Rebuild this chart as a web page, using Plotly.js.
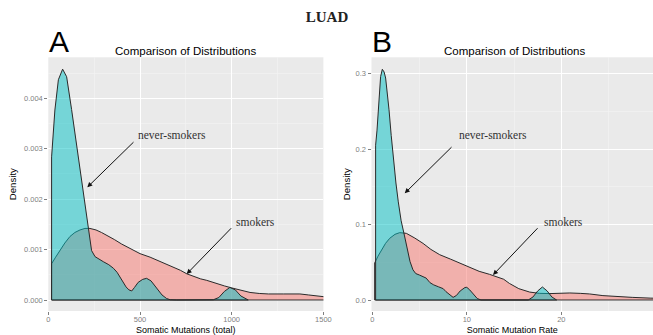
<!DOCTYPE html>
<html><head><meta charset="utf-8">
<script src="https://cdn.plot.ly/plotly-3.0.1.min.js"></script>
<style>html,body{margin:0;padding:0;background:#fff}#chart{width:653px;height:335px}</style>
</head><body><div id="chart"></div>
<script>
// ---- Panel A: Somatic Mutations (total) ----
const totalNeverX = [18,36,55,78,100,127,155,182,209,224,236,255,280,300,330,355,375,391,410,424,440,455,470,490,515,536,560,590,620,645,665,700,850,900,930,960,990,1020,1050,1075,1090];
const totalNeverY = [0.00284,0.00377,0.00437,0.00458,0.00443,0.00378,0.00306,0.00239,0.00172,0.00132,0.00098,0.00086,0.00080,0.00076,0.00070,0.00063,0.00055,0.00046,0.00034,0.00026,0.00020,0.00018,0.00025,0.00035,0.00041,0.00043,0.00038,0.00024,0.00010,0.00003,0.000005,0,0,0.000005,0.00005,0.00017,0.00025,0.00020,0.00008,0.00002,0];
const totalSmokX = [18,40,64,90,118,145,173,200,227,260,290,318,360,400,427,460,500,555,600,640,682,720,755,791,830,864,918,960,1000,1050,1100,1150,1200,1281,1340,1372,1420,1460,1500,1540];
const totalSmokY = [0.00072,0.00085,0.00099,0.00113,0.00126,0.00134,0.00139,0.00142,0.00142,0.00139,0.00134,0.00129,0.00120,0.00111,0.00106,0.00099,0.00092,0.00085,0.00078,0.00072,0.00066,0.00059,0.00052,0.00047,0.00042,0.00039,0.00032,0.00028,0.00024,0.00019,0.00015,0.00013,0.00012,0.00012,0.00012,0.00012,0.00010,0.00008,0.000065,0.00005];
const totalXTicks = [0,500,1000,1500];
const totalXMinor = [250,750,1250];
const totalYTicks = [0,0.001,0.002,0.003,0.004];
const totalYMinor = [0.0005,0.0015,0.0025,0.0035,0.0045];

// ---- Panel B: Somatic Mutation Rate ----
const rateNeverX = [0.35,0.5,0.71,0.88,1.06,1.25,1.41,1.6,1.77,2.0,2.22,2.5,2.75,3.05,3.39,3.7,3.99,4.3,4.6,5.0,5.4,5.7,6.1,6.5,7.0,7.5,7.8,8.2,8.55,8.9,9.3,9.8,10.0,10.3,10.7,11.1,11.5,16.5,17.0,17.5,18.0,18.5,19.0,19.5];
const rateNeverY = [0.205,0.225,0.274,0.296,0.3056,0.302,0.294,0.275,0.252,0.218,0.187,0.155,0.13,0.105,0.086,0.066,0.051,0.040,0.035,0.033,0.031,0.029,0.023,0.020,0.0175,0.015,0.011,0.0066,0.0035,0.006,0.012,0.0165,0.0168,0.0135,0.007,0.002,0,0,0.004,0.012,0.0172,0.012,0.004,0];
const rateSmokX = [0.25,0.6,0.95,1.4,1.84,2.4,2.9,3.3,3.6,4.5,5.37,6.2,7.13,8.3,9.6,10.3,11.3,12.4,13.9,14.5,15.5,16.65,17.7,18.8,19.8,20.9,22.0,23.0,24.4,25.8,27.5,29.4,31];
const rateSmokY = [0.049,0.058,0.066,0.075,0.0817,0.087,0.0892,0.089,0.0883,0.082,0.075,0.067,0.060,0.054,0.0475,0.043,0.038,0.034,0.0275,0.022,0.015,0.0105,0.0088,0.0085,0.0092,0.0093,0.0088,0.008,0.0058,0.0045,0.0035,0.0025,0.002];
const rateXTicks = [0,10,20,30];
const rateXMinor = [5,15,25];
const rateYTicks = [0,0.1,0.2,0.3];
const rateYMinor = [0.05,0.15,0.25];

const PINK = 'rgba(248,118,109,0.5)';
const TEAL = 'rgba(0,191,196,0.5)';

function densityTrace(xs, ys, fill, xa, ya) {
  const x = [xs[0]].concat(xs, [xs[xs.length-1], xs[0]]);
  const y = [0].concat(ys, [0, 0]);
  return {type:'scatter', mode:'lines', x:x, y:y, fill:'toself', fillcolor:fill,
          line:{color:'#2a2a2a', width:1}, xaxis:xa, yaxis:ya, hoverinfo:'skip', showlegend:false};
}

const traces = [
  densityTrace(totalSmokX, totalSmokY, PINK, 'x', 'y'),
  densityTrace(totalNeverX, totalNeverY, TEAL, 'x', 'y'),
  densityTrace(rateSmokX, rateSmokY, PINK, 'x2', 'y2'),
  densityTrace(rateNeverX, rateNeverY, TEAL, 'x2', 'y2')
];

const SANS = 'Liberation Sans, Arial, sans-serif';
const SERIF = 'Liberation Serif, Times New Roman, serif';
const tickFont = {family:SANS, size:7.5, color:'#7f7f7f'};

function axis(o) {
  return Object.assign({
    ticks:'outside', ticklen:3, tickwidth:1, tickcolor:'#7f7f7f', tickfont:tickFont,
    showgrid:true, gridcolor:'#ffffff', gridwidth:1, zeroline:false, showline:false,
    fixedrange:true, tickmode:'array'
  }, o);
}

const YD = [1-311/335, 1-57.3/335];

const layout = {
  width:653, height:335, margin:{l:0,r:0,t:0,b:0},
  paper_bgcolor:'#ffffff', plot_bgcolor:'#EAEAEA',
  showlegend:false,
  title:{text:'<b>LUAD</b>', font:{family:SERIF, size:15, color:'#222'}, x:327/653, xanchor:'center', y:1-17/335, yanchor:'middle', yref:'container', xref:'container'},
  xaxis: axis({domain:[48.3/653, 323.4/653], range:[0,1500], tickvals:totalXTicks, anchor:'y', ticklabelstandoff:-2,
    minor:{tickmode:'array', tickvals:totalXMinor, showgrid:true, gridcolor:'#F4F4F4', gridwidth:0.6, ticks:''},
    title:{text:'Somatic Mutations (total)', font:{family:SANS, size:9, color:'#000'}, standoff:4}}),
  yaxis: axis({domain:YD, range:[-0.000218, 0.004815], tickvals:totalYTicks, tickformat:'.3f', anchor:'x',
    minor:{tickmode:'array', tickvals:totalYMinor, showgrid:true, gridcolor:'#F4F4F4', gridwidth:0.6, ticks:''},
    title:{text:'Density', font:{family:SANS, size:9.6, color:'#000'}, standoff:5}}),
  xaxis2: axis({domain:[371.5/653, 1], range:[-0.085, 29.70], tickvals:rateXTicks, anchor:'y2', ticklabelstandoff:-2,
    minor:{tickmode:'array', tickvals:rateXMinor, showgrid:true, gridcolor:'#F4F4F4', gridwidth:0.6, ticks:''},
    title:{text:'Somatic Mutation Rate', font:{family:SANS, size:9, color:'#000'}, standoff:4}}),
  yaxis2: axis({domain:YD, range:[-0.01457, 0.32146], tickvals:rateYTicks, tickformat:'.1f', anchor:'x2',
    minor:{tickmode:'array', tickvals:rateYMinor, showgrid:true, gridcolor:'#F4F4F4', gridwidth:0.6, ticks:''},
    title:{text:'Density', font:{family:SANS, size:9.6, color:'#000'}, standoff:3}}),
  annotations: [
    {xref:'paper', yref:'paper', x:47/653, y:1-42/335, xanchor:'left', yanchor:'middle', text:'A', showarrow:false, font:{family:SANS, size:30, color:'#000'}},
    {xref:'paper', yref:'paper', x:370/653, y:1-42/335, xanchor:'left', yanchor:'middle', text:'B', showarrow:false, font:{family:SANS, size:30, color:'#000'}},
    {xref:'paper', yref:'paper', x:186/653, y:1-51/335, xanchor:'center', yanchor:'middle', text:'Comparison of Distributions', showarrow:false, font:{family:SANS, size:11.5, color:'#000'}},
    {xref:'paper', yref:'paper', x:515/653, y:1-51/335, xanchor:'center', yanchor:'middle', text:'Comparison of Distributions', showarrow:false, font:{family:SANS, size:11.5, color:'#000'}},
    // panel A labels
    {xref:'x', yref:'y', x:674, y:0.003274, text:'never-smokers', showarrow:false, font:{family:SERIF, size:11.5, color:'#333'}},
    {xref:'x', yref:'y', x:1132, y:0.001548, text:'smokers', showarrow:false, font:{family:SERIF, size:11.5, color:'#333'}},
    {xref:'x', yref:'y', x:212.6, y:0.002236, axref:'x', ayref:'y', ax:472.7, ay:0.00316, text:'', showarrow:true, arrowhead:2, arrowsize:1, arrowwidth:1, arrowcolor:'#111', standoff:0, startstandoff:0},
    {xref:'x', yref:'y', x:754.6, y:0.000516, axref:'x', ayref:'y', ax:1005, ay:0.001454, text:'', showarrow:true, arrowhead:2, arrowsize:1, arrowwidth:1, arrowcolor:'#111', standoff:0, startstandoff:0},
    // panel B labels
    {xref:'x2', yref:'y2', x:12.77, y:0.2185, text:'never-smokers', showarrow:false, font:{family:SERIF, size:11.5, color:'#333'}},
    {xref:'x2', yref:'y2', x:20.18, y:0.1033, text:'smokers', showarrow:false, font:{family:SERIF, size:11.5, color:'#333'}},
    {xref:'x2', yref:'y2', x:3.43, y:0.1413, axref:'x2', ayref:'y2', ax:8.54, ay:0.2044, text:'', showarrow:true, arrowhead:2, arrowsize:1, arrowwidth:1, arrowcolor:'#111', standoff:0, startstandoff:0},
    {xref:'x2', yref:'y2', x:12.77, y:0.0331, axref:'x2', ayref:'y2', ax:17.64, ay:0.0971, text:'', showarrow:true, arrowhead:2, arrowsize:1, arrowwidth:1, arrowcolor:'#111', standoff:0, startstandoff:0}
  ]
};

Plotly.newPlot('chart', traces, layout, {staticPlot:true, displayModeBar:false});
</script>
</body></html>
